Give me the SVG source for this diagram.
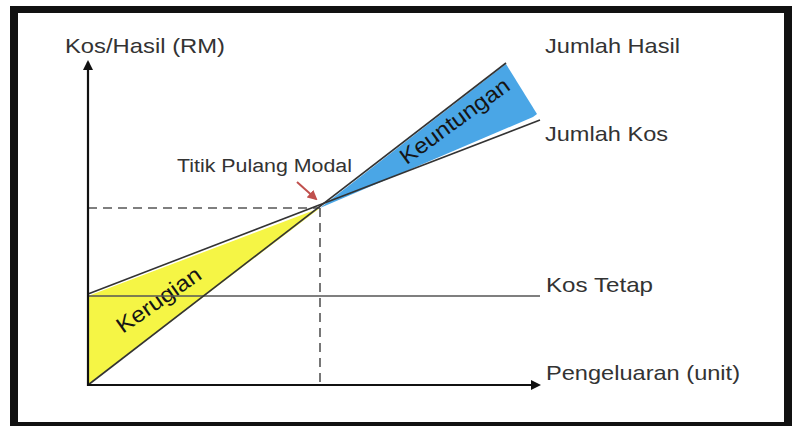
<svg xmlns="http://www.w3.org/2000/svg" width="792" height="426" viewBox="0 0 792 426">
<style>
.t{font-family:"Liberation Sans",Arial,sans-serif;fill:#333;font-size:21px}
.r{fill:#151515;font-size:22px}
.ln{stroke:#333;stroke-width:1.6;fill:none}
.dash{stroke:#555;stroke-width:1.6;stroke-dasharray:9,6;fill:none}
.ax{stroke:#111;stroke-width:2.2;fill:none}
</style>
<defs>
<marker id="ah" markerWidth="10" markerHeight="10" refX="8" refY="5" orient="auto" markerUnits="userSpaceOnUse">
<path d="M0,0 L10,5 L0,10 Z" fill="#111"/>
</marker>
<marker id="rh" markerWidth="10" markerHeight="10" refX="8" refY="5" orient="auto" markerUnits="userSpaceOnUse">
<path d="M0,0 L10,5 L0,10 Z" fill="#c0504d"/>
</marker>
</defs>
<rect x="0" y="0" width="792" height="426" fill="#fff"/>
<rect x="10" y="6" width="782" height="420" fill="#111"/>
<rect x="18" y="13" width="766" height="409" fill="#fff"/>

<g id="loss-region">
<polygon points="88,296 320,208 88,385" fill="#f5f545"/>
<text class="t r" transform="translate(163,306) rotate(-35)" text-anchor="middle" textLength="98" lengthAdjust="spacingAndGlyphs">Kerugian</text>
</g>
<g id="profit-region">
<polygon points="320,208 506,64 537,114 533,117" fill="#4aa6e6"/>
<text class="t r" transform="translate(459,127) rotate(-36)" text-anchor="middle" textLength="130" lengthAdjust="spacingAndGlyphs">Keuntungan</text>
</g>

<g id="connectors">
<line class="dash" x1="88" y1="208" x2="320" y2="208"/>
<line class="dash" x1="320" y1="208" x2="320" y2="385"/>
<line class="ln" x1="88" y1="296" x2="540" y2="296" style="stroke:#555"/>
<line class="ln" x1="88" y1="294" x2="540" y2="120"/>
<line class="ln" x1="88" y1="385" x2="506" y2="63"/>
<line class="ax" x1="88" y1="386" x2="88" y2="62" marker-end="url(#ah)"/>
<line class="ax" x1="88" y1="385" x2="539" y2="385" marker-end="url(#ah)"/>
<line stroke="#c0504d" stroke-width="2" x1="297" y1="182" x2="316" y2="199" marker-end="url(#rh)"/>
</g>

<g id="y-axis-label"><text class="t" x="65" y="53" textLength="160" lengthAdjust="spacingAndGlyphs">Kos/Hasil (RM)</text></g>
<g id="jumlah-hasil"><text class="t" x="545" y="53" textLength="135" lengthAdjust="spacingAndGlyphs">Jumlah Hasil</text></g>
<g id="jumlah-kos"><text class="t" x="545" y="141" textLength="123" lengthAdjust="spacingAndGlyphs">Jumlah Kos</text></g>
<g id="kos-tetap"><text class="t" x="546" y="292" textLength="107" lengthAdjust="spacingAndGlyphs">Kos Tetap</text></g>
<g id="x-axis-label"><text class="t" x="546" y="380" textLength="194" lengthAdjust="spacingAndGlyphs">Pengeluaran (unit)</text></g>
<g id="break-even"><text class="t" x="177" y="172" style="font-size:18px" textLength="175" lengthAdjust="spacingAndGlyphs">Titik Pulang Modal</text></g>
</svg>
